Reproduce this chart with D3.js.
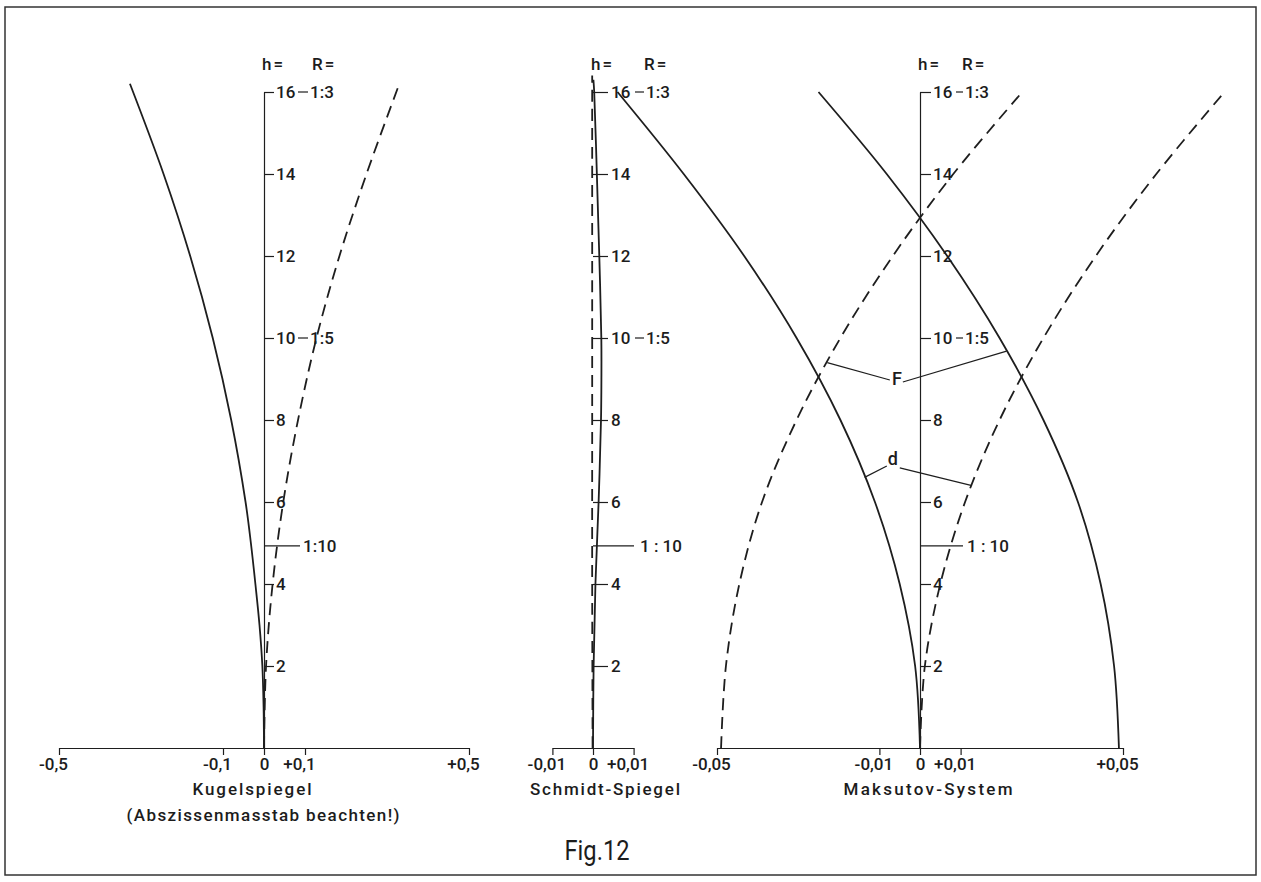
<!DOCTYPE html>
<html>
<head>
<meta charset="utf-8">
<script src="https://cdn.jsdelivr.net/npm/d3@7"></script>
<style>
    body { margin: 0; background: #fff; }
    svg text { font-family: Roboto, "DejaVu Sans", sans-serif; fill: #1c1c1c; font-weight: 500; }
</style>
</head>
<body>
<svg id="fig" width="1261" height="882"></svg>
<script>
(function () {

    // ordinate h, shared by the three panels
    var hTicks = [2, 4, 6, 8, 10, 12, 14, 16];
    var rH = [16, 10, 4.93];
    var rLabels = ['1:3', '1:5', '1:10'];

    // Kugelspiegel
    var kugelTicks = [-0.5, -0.1, 0, 0.1, 0.5];
    var kugelH = [0, 1, 2, 3, 4, 5, 6, 8, 10, 12, 14, 16.2];
    var kugelSolid = [0, -0.001, -0.004, -0.011, -0.021, -0.032, -0.045, -0.080, -0.125, -0.180, -0.245, -0.327];
    var kugelDashH = [0, 2, 4, 6, 8, 10, 12, 14, 16.17];
    var kugelDash = [0, 0.005, 0.021, 0.047, 0.083, 0.128, 0.184, 0.250, 0.329];

    // Schmidt-Spiegel
    var schmidtTicks = [-0.01, 0, 0.01];
    var schmidtH = [0, 2, 4, 6, 8, 9, 10, 12, 14, 16, 16.3];
    var schmidtSolid = [0, 0.00015, 0.0006, 0.00138, 0.00197, 0.00207, 0.00205, 0.00155, 0.00095, 0.0003, 0.0001];
    var schmidtDashH = [0, 4, 8, 12, 16.4];
    var schmidtDash = [-0.0001, -0.0002, -0.0002, -0.0002, -0.0002];

    // Maksutov-System
    var maksTicks = [-0.05, -0.01, 0, 0.01, 0.05];
    var maksH = [0, 2, 4, 6, 8, 10, 12, 14, 16];
    var maksSolidD = [0, -0.0012, -0.0050, -0.0111, -0.0196, -0.0304, -0.0433, -0.0582, -0.0745];
    var maksDashD = [0, 0.0012, 0.0050, 0.0111, 0.0196, 0.0304, 0.0433, 0.0582, 0.0750];
    var maksSolidF = [0.0490, 0.0478, 0.0445, 0.0389, 0.0304, 0.0196, 0.0067, -0.0082, -0.0250];
    var maksDashF = [-0.0490, -0.0478, -0.0445, -0.0389, -0.0304, -0.0196, -0.0067, 0.0082, 0.0252];

    var svg = d3.select('#fig');
    var ink = '#1e1e1e';

    svg.append('rect')
        .attr('x', 5).attr('y', 7)
        .attr('width', 1251).attr('height', 868)
        .attr('fill', 'none')
        .attr('stroke', '#333')
        .attr('stroke-width', 1.5);

    var yScale = d3.scaleLinear().domain([0, 16]).range([748, 92]);

    function fmt(d) {
        if (d === 0) return '0';
        return (d < 0 ? '-' : '+') + String(Math.abs(d)).replace('.', ',');
    }

    var panels = [
        {
            x: d3.scaleLinear().domain([-0.5, 0.5]).range([59, 469]),
            ticks: kugelTicks, axisLine: true, tickLen: 10, tickPad: 2,
            rDash: [34, 44], rText: 46, rLong: 36, rLongText: 39, r10: '1:10', rHead: 48,
            names: ['Kugelspiegel', '(Abszissenmasstab beachten!)'], nameX: [252, 263], nameW: [119, 273],
            curves: [[kugelH, kugelSolid, false], [kugelDashH, kugelDash, true]]
        },
        {
            x: d3.scaleLinear().domain([-0.01, 0.01]).range([552.4, 633.6]),
            ticks: schmidtTicks, axisLine: false, tickLen: 15, tickPad: 3,
            rDash: [42, 51], rText: 53, rLong: 41, rLongText: 47, r10: '1 : 10', rHead: 51,
            names: ['Schmidt-Spiegel'], nameX: [605], nameW: [150],
            curves: [[schmidtH, schmidtSolid, false], [schmidtDashH, schmidtDash, true]]
        },
        {
            x: d3.scaleLinear().domain([-0.05, 0.05]).range([717, 1123]),
            ticks: maksTicks, axisLine: true, tickLen: 11, tickPad: 2,
            rDash: [36, 43], rText: 45, rLong: 43, rLongText: 47, r10: '1 : 10', rHead: 42,
            names: ['Maksutov-System'], nameX: [928], nameW: [169],
            curves: [[maksH, maksSolidD, false], [maksH, maksDashD, true],
                     [maksH, maksSolidF, false], [maksH, maksDashF, true]]
        }
    ];

    var line = d3.line().curve(d3.curveCatmullRom.alpha(0.5));

    panels.forEach(function (p) {
        var x0 = p.x(0);

        // abscissa
        var gx = svg.append('g')
            .attr('transform', 'translate(0,' + yScale(0) + ')')
            .call(d3.axisBottom(p.x).tickValues(p.ticks).tickFormat(fmt)
                .tickSize(7).tickSizeOuter(0).tickPadding(3));
        gx.select('.domain').attr('stroke', ink).attr('stroke-width', 1.2);
        gx.selectAll('.tick line').attr('stroke', ink).attr('stroke-width', 1.2);
        gx.selectAll('.tick text')
            .attr('dx', function (d) { return d === 0 ? 0 : -6; })
            .style('font-size', '17px').attr('fill', '#1c1c1c');

        // ordinate h
        var gy = svg.append('g')
            .attr('transform', 'translate(' + x0 + ',0)')
            .call(d3.axisRight(yScale).tickValues(hTicks).tickFormat(d3.format('d'))
                .tickSize(p.tickLen).tickSizeOuter(0).tickPadding(p.tickPad));
        gy.select('.domain').attr('stroke', p.axisLine ? ink : 'none').attr('stroke-width', 1.2);
        gy.selectAll('.tick line').attr('stroke', ink).attr('stroke-width', 1.2);
        gy.selectAll('.tick text').style('font-size', '17px').attr('fill', '#1c1c1c');

        // R = marks
        rH.forEach(function (h, i) {
            var y = yScale(h);
            var long = (i === 2);
            svg.append('line')
                .attr('x1', x0 + (long ? 0 : p.rDash[0]))
                .attr('x2', x0 + (long ? p.rLong : p.rDash[1]))
                .attr('y1', y).attr('y2', y)
                .attr('stroke', ink).attr('stroke-width', 1.2);
            svg.append('text')
                .attr('x', x0 + (long ? p.rLongText : p.rText))
                .attr('y', y).attr('dy', '0.35em')
                .style('font-size', '17px')
                .text(long ? p.r10 : rLabels[i]);
        });

        // headers
        svg.append('text').attr('x', x0 - 2).attr('y', 70)
            .style('font-size', '17px').style('letter-spacing', '2px').text('h=');
        svg.append('text').attr('x', x0 + p.rHead).attr('y', 70)
            .style('font-size', '17px').style('letter-spacing', '2px').text('R=');

        // panel names
        p.names.forEach(function (n, i) {
            svg.append('text')
                .attr('x', p.nameX[i]).attr('y', 795 + 26 * i)
                .attr('text-anchor', 'middle')
                .attr('textLength', p.nameW[i]).attr('lengthAdjust', 'spacing')
                .style('font-size', '17px')
                .text(n);
        });

        // curves
        p.curves.forEach(function (c) {
            var pts = c[0].map(function (h, i) { return [p.x(c[1][i]), yScale(h)]; });
            svg.append('path')
                .attr('d', line(pts))
                .attr('fill', 'none')
                .attr('stroke', ink)
                .attr('stroke-width', 1.8)
                .attr('stroke-dasharray', c[2] ? '12,7' : null);
        });
    });

    // F and d labels in the Maksutov panel
    var mx = panels[2].x;
    function valueAt(hs, vals, h) {
        var i = Math.min(d3.bisectRight(hs, h) - 1, hs.length - 2);
        var t = (h - hs[i]) / (hs[i + 1] - hs[i]);
        return vals[i] + t * (vals[i + 1] - vals[i]);
    }
    var notes = [
        { text: 'F', h: 9.0, v: -0.0057, ends: [[maksDashF, 9.4, -7, 1], [maksSolidF, 9.68, 6, 3]] },
        { text: 'd', h: 7.05, v: -0.0067, ends: [[maksSolidD, 6.6, -6, 7], [maksDashD, 6.4, 7, 9]] }
    ];
    notes.forEach(function (n) {
        var lx = mx(n.v), ly = yScale(n.h);
        svg.append('text')
            .attr('x', lx).attr('y', ly).attr('dy', '0.36em')
            .attr('text-anchor', 'middle')
            .style('font-size', '18px')
            .text(n.text);
        n.ends.forEach(function (e) {
            svg.append('line')
                .attr('x1', mx(valueAt(maksH, e[0], e[1]))).attr('y1', yScale(e[1]))
                .attr('x2', lx + e[2]).attr('y2', ly + e[3])
                .attr('stroke', ink).attr('stroke-width', 1.2);
        });
    });

    svg.append('text')
        .attr('x', 597).attr('y', 860)
        .attr('text-anchor', 'middle')
        .attr('textLength', 65).attr('lengthAdjust', 'spacingAndGlyphs')
        .style('font-size', '27px')
        .style('font-weight', 400)
        .text('Fig.12');

})();
</script>
</body>
</html>
